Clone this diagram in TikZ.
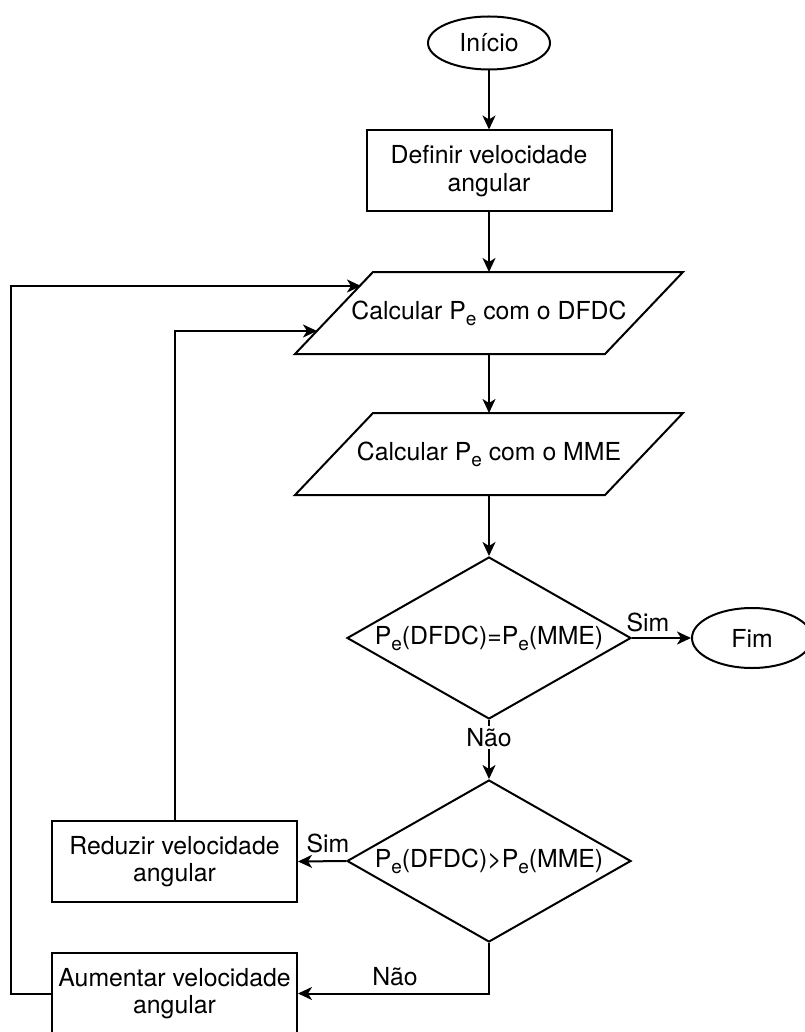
\documentclass[tikz,border=0pt]{standalone}
\usepackage{fontspec}
\setmainfont{TeX Gyre Heros}
\usetikzlibrary{shapes.geometric,arrows.meta,calc}
\newcommand{\Pe}{P\raisebox{-0.45ex}{\fontsize{9.5}{10}\selectfont e}}
\begin{document}
\begin{tikzpicture}[x=0.5pt,y=-0.5pt,line width=1pt,
  font=\fontsize{12.4}{13.8}\selectfont,
  term/.style={ellipse,draw,inner sep=0pt},
  proc/.style={rectangle,draw,minimum width=122.5pt,minimum height=40.5pt,align=center,inner sep=0pt},
  io/.style={rectangle,minimum width=154pt,minimum height=40pt,inner sep=0pt},
  dec/.style={diamond,draw,inner sep=0pt,shape aspect=1.75,minimum width=142pt,minimum height=81pt},
  arr/.style={-{Stealth[length=7pt,width=6.5pt,inset=2pt]}},
  lbl/.style={inner sep=1pt,fill=white}]
\useasboundingbox (0,0) rectangle (804,1032);
\fill[white] (0,0) rectangle (804,1032);

\node[term,minimum width=61pt,minimum height=26.5pt] (inicio) at (489,43) {Início};
\node[proc] (definir) at (489,171) {Definir velocidade\\angular};
\node[io] (p1) at (489,313) {Calcular \Pe{} com o DFDC};
\node[io] (p2) at (489,454) {Calcular \Pe{} com o MME};
\node[dec,label={center:\Pe(DFDC)=\Pe(MME)}] (d1) at (489,638) {};
\node[term,minimum width=60pt,minimum height=30pt] (fim) at (752,638) {Fim};
\node[dec,label={center:\Pe(DFDC)>\Pe(MME)}] (d2) at (489,861) {};
\node[proc] (red) at (174.5,861.5) {Reduzir velocidade\\angular};
\node[proc] (aum) at (174.5,993.5) {Aumentar velocidade\\angular};

\foreach \p in {p1,p2}{
  \draw ($(\p.south west)+(-39,0)$) -- ($(\p.north west)+(39,0)$) --
        ($(\p.north east)+(39,0)$) -- ($(\p.south east)+(-39,0)$) -- cycle;
}
\coordinate (p1a) at (361,286);
\coordinate (p1b) at (317,331);

\draw[arr] (inicio) -- (definir);
\draw[arr] (definir) -- (p1);
\draw[arr] (p1) -- (p2);
\draw[arr] (p2) -- (d1);
\draw[arr] (d1.east) -- (fim.west);
\node at (648,622) {Sim};
\draw[arr] (d1.south) -- node[lbl,pos=0.3] {Não} (d2.north);
\draw[arr] (d2.west) -- (red.east);
\node at (328,843) {Sim};
\draw[arr] (d2.south) |- (aum.east);
\node at (395,977) {Não};
\draw[arr] (red.north) |- (p1b);
\draw[arr] (aum.west) -- ++(-40,0) |- (p1a);
\end{tikzpicture}
\end{document}
